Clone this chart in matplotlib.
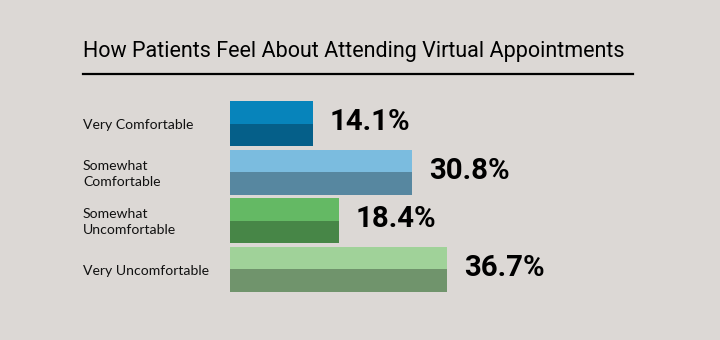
import matplotlib.pyplot as plt
from matplotlib import transforms
from matplotlib.lines import Line2D

# Data
categories = ['Very Comfortable', 'Somewhat\nComfortable', 'Somewhat\nUncomfortable', 'Very Uncomfortable']
values = [14.1, 30.8, 18.4, 36.7]
top_colors = ['#0784bb', '#7bbcdf', '#64b964', '#a0d299']
bottom_colors = ['#055f89', '#5787a0', '#478647', '#70946c']

bg = '#dcd8d5'
W, H = 720, 340

fig = plt.figure(figsize=(W / 100, H / 100), dpi=100, facecolor=bg)

# axes placed in pixel terms: 0% at x=230, ~5.92 px per %
px_per = 5.92
ax_left, ax_w = 230, px_per * 80
ax_top, ax_bot = 99.2, 293.8
ax = fig.add_axes([ax_left / W, 1 - ax_bot / H, ax_w / W, (ax_bot - ax_top) / H])
ax.set_facecolor(bg)
ax.set_xlim(0, 80)
ax.set_ylim(3.5, -0.5)
ax.axis('off')

half = 0.4625
ypos = range(len(categories))
for i, v in zip(ypos, values):
    ax.barh(i - half / 2, v, height=half, color=top_colors[i], linewidth=0)
    ax.barh(i + half / 2, v, height=half, color=bottom_colors[i], linewidth=0)
    ax.text(v + 2.8, i - 0.03, f'{v}%', ha='left', va='center',
            fontsize=21.2, fontweight='bold', family='Roboto', color='#000000')

# category labels on the left
trans = transforms.blended_transform_factory(fig.transFigure, ax.transData)
for i, lab in zip(ypos, categories):
    fig.text(83 / W, i + 0.03, lab, transform=trans, ha='left', va='center',
             fontsize=10.1, family='Lato', color='#111111', linespacing=1.4)

# title and rule
fig.text(83 / W, 1 - 57 / H, 'How Patients Feel About Attending Virtual Appointments',
         ha='left', va='baseline', fontsize=15.5, family='Roboto', color='#000000')
fig.add_artist(Line2D([83 / W, 633 / W], [1 - 73.5 / H] * 2, transform=fig.transFigure,
                      color='#000000', linewidth=1.6))

fig.savefig('out.png', dpi=100, facecolor=bg)
